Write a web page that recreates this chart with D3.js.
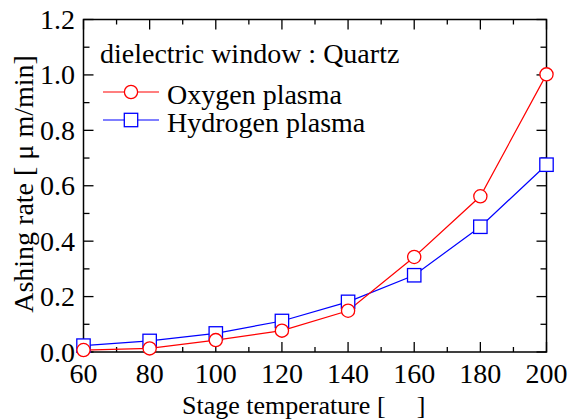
<!DOCTYPE html>
<html>
<head>
<meta charset="utf-8">
<script src="https://cdn.jsdelivr.net/npm/d3@7"></script>
</head>
<body style="margin:0">
<svg id="chart" width="570" height="419" font-family="Liberation Serif, Times New Roman, serif"></svg>
<script>
// Stage temperature (°C) and ashing rate (µm/min)
const temperatures = [60, 80, 100, 120, 140, 160, 180, 200];
const oxygenRate   = [0.007, 0.013, 0.043, 0.077, 0.149, 0.343, 0.562, 1.002];
const hydrogenRate = [0.023, 0.040, 0.067, 0.112, 0.181, 0.277, 0.452, 0.676];
const xTicks = [60, 80, 100, 120, 140, 160, 180, 200];
const yTicks = [0.0, 0.2, 0.4, 0.6, 0.8, 1.0, 1.2];

const FONT = "Liberation Serif";
const FONT_SIZE = 28;

const svg = d3.select("#chart");
const plotLeft = 83.5, plotRight = 546.5, plotTop = 19.5, plotBottom = 352;

const x = d3.scaleLinear().domain([60, 200]).range([plotLeft, plotRight]);
const y = d3.scaleLinear().domain([0, 1.2]).range([plotBottom, plotTop]);

const black = "#000";

function label(sel, size = FONT_SIZE) {
  return sel.attr("font-family", FONT).attr("font-size", size).attr("fill", black);
}

// frame
svg.append("rect")
  .attr("x", plotLeft).attr("y", plotTop)
  .attr("width", plotRight - plotLeft).attr("height", plotBottom - plotTop)
  .attr("fill", "none").attr("stroke", black).attr("stroke-width", 1.5);

// inward ticks on all four sides
const xMinor = d3.range(60, 201, 10);
const yMinor = d3.range(0, 13).map(i => i / 10);
const tickG = svg.append("g").attr("stroke", black).attr("stroke-width", 1.3);
xMinor.forEach(v => {
  const len = v % 20 === 0 ? 10 : 5;
  tickG.append("line").attr("x1", x(v)).attr("x2", x(v)).attr("y1", plotBottom).attr("y2", plotBottom - len);
  tickG.append("line").attr("x1", x(v)).attr("x2", x(v)).attr("y1", plotTop).attr("y2", plotTop + len);
});
yMinor.forEach((v, i) => {
  const len = i % 2 === 0 ? 10 : 6;
  tickG.append("line").attr("x1", plotLeft).attr("x2", plotLeft + len).attr("y1", y(v)).attr("y2", y(v));
  tickG.append("line").attr("x1", plotRight).attr("x2", plotRight - len).attr("y1", y(v)).attr("y2", y(v));
});

// tick labels
label(svg.append("g").selectAll("text").data(xTicks).join("text"))
  .attr("x", d => x(d)).attr("y", 383)
  .attr("text-anchor", "middle")
  .text(d => d);
label(svg.append("g").selectAll("text").data(yTicks).join("text"))
  .attr("x", 75).attr("y", d => y(d) + 9.5)
  .attr("text-anchor", "end")
  .text(d => d.toFixed(1));

// axis titles (the unit symbol between the brackets is left blank)
label(svg.append("text"), 26)
  .attr("x", 182).attr("y", 414)
  .text("Stage temperature [\u2003\u2009]");
label(svg.append("text"))
  .attr("transform", "translate(33,184) rotate(-90)")
  .attr("text-anchor", "middle")
  .text("Ashing rate [ \u03bc m/min]");

// series
const series = [
  { name: "Oxygen plasma", values: oxygenRate, color: "#ff0000", marker: "circle" },
  { name: "Hydrogen plasma", values: hydrogenRate, color: "#0000ff", marker: "square" }
];

const line = d3.line().x(d => x(d[0])).y(d => y(d[1]));

function drawMarker(g, type, cx, cy, color) {
  if (type === "circle") {
    g.append("circle").attr("cx", cx).attr("cy", cy).attr("r", 6.6)
      .attr("fill", "#fff").attr("stroke", color).attr("stroke-width", 1.3);
  } else {
    g.append("rect").attr("x", cx - 6.7).attr("y", cy - 6.7)
      .attr("width", 13.4).attr("height", 13.4)
      .attr("fill", "#fff").attr("stroke", color).attr("stroke-width", 1.3);
  }
}

// lines first (hydrogen, then oxygen), then markers on top
series.slice().reverse().forEach(s => {
  const pts = temperatures.map((t, i) => [t, s.values[i]]);
  svg.append("path").datum(pts)
    .attr("d", line).attr("fill", "none")
    .attr("stroke", s.color).attr("stroke-width", 1.2);
});
series.slice().reverse().forEach(s => {
  const g = svg.append("g");
  temperatures.forEach((t, i) => drawMarker(g, s.marker, x(t), y(s.values[i]), s.color));
});

// legend
label(svg.append("text")).attr("x", 100).attr("y", 63)
  .text("dielectric window : Quartz");
series.forEach((s, i) => {
  const ly = 92 + i * 28;
  const g = svg.append("g");
  g.append("line").attr("x1", 103).attr("x2", 159).attr("y1", ly).attr("y2", ly)
    .attr("stroke", s.color).attr("stroke-width", 1.2);
  drawMarker(g, s.marker, 131, ly, s.color);
  label(g.append("text")).attr("x", 167).attr("y", ly + 11.5).text(s.name);
});
</script>
</body>
</html>
